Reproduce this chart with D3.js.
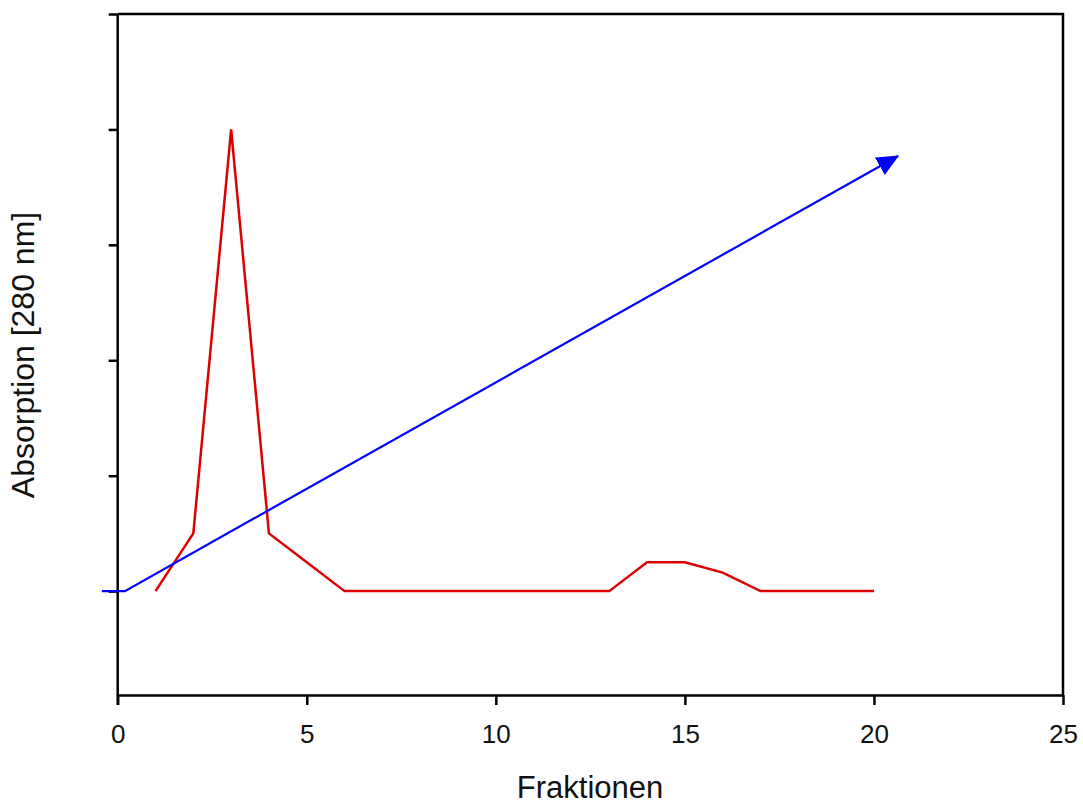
<!DOCTYPE html>
<html>
<head>
<meta charset="utf-8">
<script src="https://d3js.org/d3.v7.min.js"></script>
<style>
  html, body { margin: 0; padding: 0; background: #fff; }
  svg { display: block; font-family: "Liberation Sans", Arial, sans-serif; }
</style>
</head>
<body>
<svg id="chart" width="1083" height="805"></svg>
<script>
// Data
const fractions = [1, 2, 3, 4, 5, 6, 7, 8, 9, 10, 11, 12, 13, 14, 15, 16, 17, 18, 19, 20];
const absorption = [0, 0.5, 4, 0.5, 0.25, 0, 0, 0, 0, 0, 0, 0, 0, 0.25, 0.25, 0.16, 0, 0, 0, 0];
const gradientX = [-0.42, 0.19, 20.64];
const gradientY = [0, 0, 3.77];
const xTicks = [0, 5, 10, 15, 20, 25];
const yTicks = [0, 1, 2, 3, 4, 5];
const xLabel = "Fraktionen";
const yLabel = "Absorption [280 nm]";

(function () {
const svg = d3.select("#chart");
const mLeft = 117.7, mRight = 1063, mTop = 14, mBottom = 695;

const x = d3.scaleLinear().domain([0, 25]).range([mLeft, mRight]);
const y = d3.scaleLinear().domain([-0.9, 5]).range([mBottom, mTop]);

// frame (top & right)
svg.append("path")
  .attr("d", `M${mLeft},${mTop}H${mRight}V${mBottom}`)
  .attr("fill", "none").attr("stroke", "#000").attr("stroke-width", 2.5);

// x axis
const gx = svg.append("g").attr("transform", `translate(0,${mBottom})`)
  .call(d3.axisBottom(x).tickValues(xTicks).tickSize(10).tickPadding(20).tickSizeOuter(0));
gx.select(".domain").attr("stroke-width", 2.5);
gx.selectAll(".tick line").attr("stroke-width", 2.5);
gx.selectAll(".tick text").attr("font-size", 26).attr("fill", "#111")
  .attr("font-family", "'Liberation Sans', Arial, sans-serif");

// y axis (no labels)
const gy = svg.append("g").attr("transform", `translate(${mLeft},0)`)
  .call(d3.axisLeft(y).tickValues(yTicks).tickSize(9).tickFormat("").tickSizeOuter(0));
gy.select(".domain").attr("stroke-width", 2.5)
  .attr("d", `M0,${mTop}V${mBottom + 10}`);
gy.selectAll(".tick line").attr("stroke-width", 2.5);

// red absorption line
const line = d3.line().x(d => x(d[0])).y(d => y(d[1]));
svg.append("path")
  .datum(fractions.map((f, i) => [f, absorption[i]]))
  .attr("d", line)
  .attr("fill", "none").attr("stroke", "#dd0000").attr("stroke-width", 2.5)
  .attr("stroke-linejoin", "miter");

// arrow marker
svg.append("defs").append("marker")
  .attr("id", "arrow").attr("markerUnits", "userSpaceOnUse")
  .attr("viewBox", "0 -10 22 20")
  .attr("refX", 21).attr("refY", 0)
  .attr("markerWidth", 22).attr("markerHeight", 20)
  .attr("orient", "auto")
  .append("path").attr("d", "M0,-10L22,0L0,10Z").attr("fill", "#0000ff");

// blue gradient line
svg.append("path")
  .datum(gradientX.map((g, i) => [g, gradientY[i]]))
  .attr("d", line)
  .attr("fill", "none").attr("stroke", "#0000ff").attr("stroke-width", 2.2)
  .attr("marker-end", "url(#arrow)");

// axis titles
svg.append("text")
  .attr("x", 590).attr("y", 798)
  .attr("text-anchor", "middle").attr("font-size", 31).attr("fill", "#111")
  .text(xLabel);

svg.append("text")
  .attr("transform", "translate(34,355) rotate(-90)")
  .attr("text-anchor", "middle").attr("font-size", 32).attr("fill", "#111")
  .text(yLabel);
})();
</script>
</body>
</html>
